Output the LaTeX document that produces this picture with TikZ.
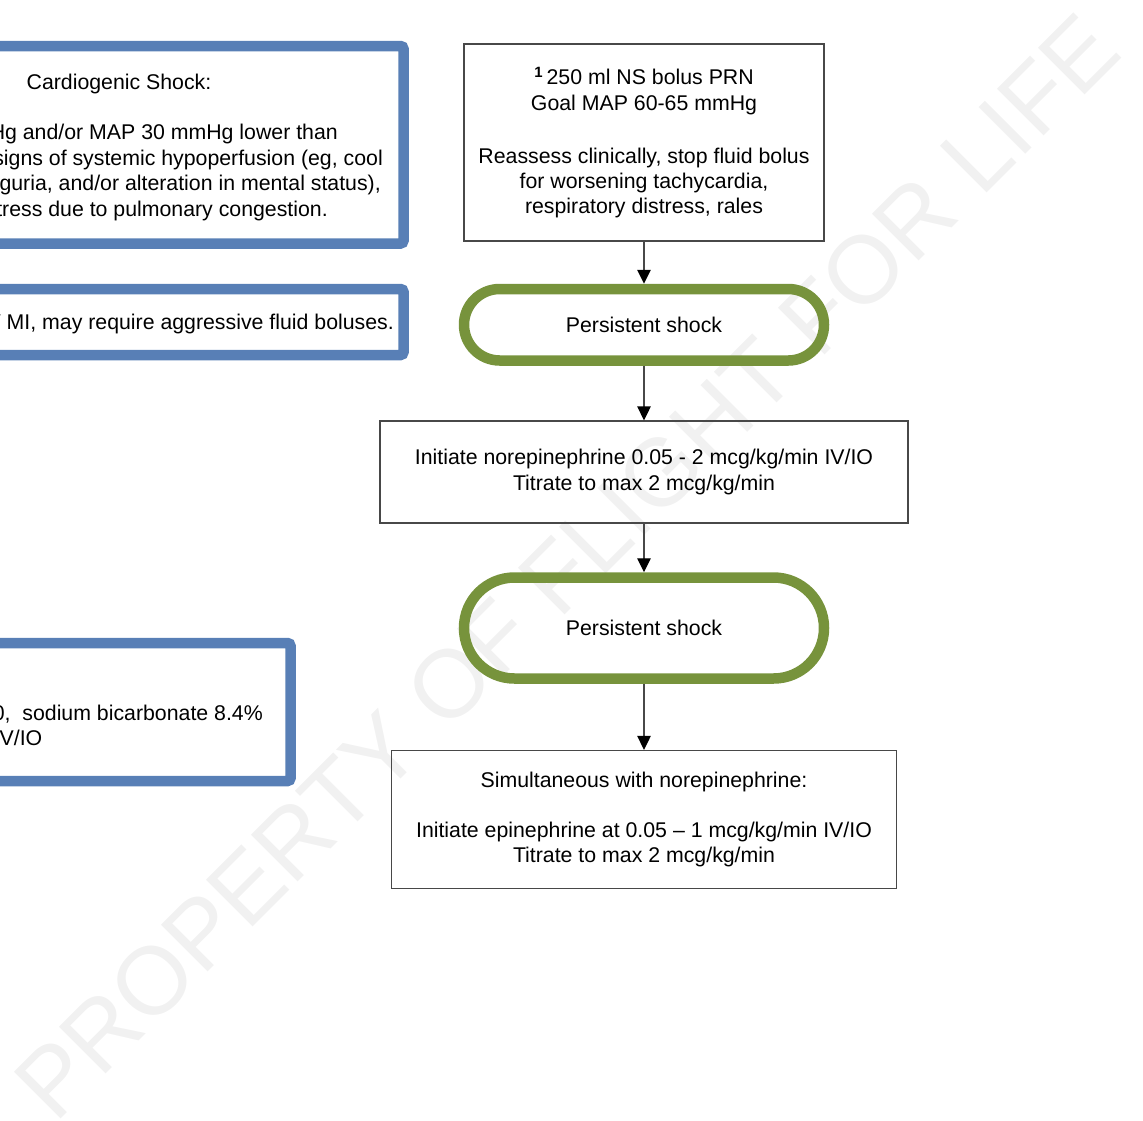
\documentclass[tikz,border=0pt]{standalone}
\usepackage{fontspec}
\setmainfont{Liberation Sans}
\usetikzlibrary{arrows.meta}
\definecolor{bluebd}{RGB}{88,127,182}
\definecolor{greenbd}{RGB}{119,147,60}
\definecolor{wmgray}{RGB}{241,241,241}
\definecolor{boxgray}{RGB}{72,72,72}
\begin{document}
\begin{tikzpicture}[x=1pt,y=-1pt,
  every node/.style={font=\fontsize{21.3}{25.3}\selectfont, inner sep=0pt},
  flowbox/.style={draw=boxgray, line width=1.3pt, align=center},
  pillbox/.style={draw=greenbd, line width=10.5pt, align=center},
  bluebox/.style={draw=bluebd, line width=10.5pt, rounded corners=3pt},
  arr/.style={draw=boxgray, line width=1.3pt, -{Triangle[width=13.5pt,length=14pt,color=black]}},
  sidetext/.style={anchor=base east}]
\useasboundingbox (0,0) rectangle (1143,1120);
\clip (0,0) rectangle (1143,1120);
% watermark
\node[text=wmgray, font=\fontsize{96}{96}\selectfont, rotate=45, anchor=base] (wmark) at (590,590) {PROPERTY OF FLIGHT FOR LIFE};
% left blue boxes (cut off at the left edge)
\draw[bluebox] (-60,46) rectangle (403.5,243.5);
\draw[bluebox] (-60,289) rectangle (403.5,355);
\draw[bluebox] (-60,643) rectangle (290.5,781);
\node[anchor=base] (cstitle) at (119,89) {Cardiogenic Shock:};
\node[sidetext] (cs1) at (338,139) {Hg and/or MAP 30 mmHg lower than};
\node[sidetext] (cs2) at (383,165) {signs of systemic hypoperfusion (eg, cool};
\node[sidetext] (cs3) at (381,190) {guria, and/or alteration in mental status),};
\node[sidetext] (cs4) at (328,216) {tress due to pulmonary congestion.};
\node[sidetext] (rv) at (394,329) {V MI, may require aggressive fluid boluses.};
\node[sidetext] (bic1) at (263,720) {0,\ \ sodium bicarbonate 8.4\%};
\node[anchor=base west] (bic2) at (-0.5,745) {V/IO};
% flow chart
\node[flowbox, minimum width=360, minimum height=197] (bolus) at (644,142.5)
  {\textsuperscript{\bfseries 1}\,250 ml NS bolus PRN\\Goal MAP 60-65 mmHg\\[27.7pt]Reassess clinically, stop fluid bolus\\for worsening tachycardia,\\respiratory distress, rales};
\node[pillbox, minimum width=360, minimum height=71.5, rounded corners=35.7pt] (shock1) at (644,324.75) {Persistent shock};
\node[flowbox, minimum width=528, minimum height=102] (norepi) at (644,472)
  {Initiate norepinephrine 0.05 - 2 mcg/kg/min IV/IO\\Titrate to max 2 mcg/kg/min};
\node[pillbox, minimum width=360, minimum height=101, rounded corners=50.4pt] (shock2) at (644,628) {Persistent shock};
\node[flowbox, minimum width=505, minimum height=138] (epi) at (644,819.5)
  {Simultaneous with norepinephrine:\\[25.3pt]Initiate epinephrine at 0.05 – 1 mcg/kg/min IV/IO\\Titrate to max 2 mcg/kg/min};
\draw[arr] (bolus.south) -- (shock1.north);
\draw[arr] (shock1.south) -- (norepi.north);
\draw[arr] (norepi.south) -- (shock2.north);
\draw[arr] (shock2.south) -- (epi.north);
\end{tikzpicture}
\end{document}
